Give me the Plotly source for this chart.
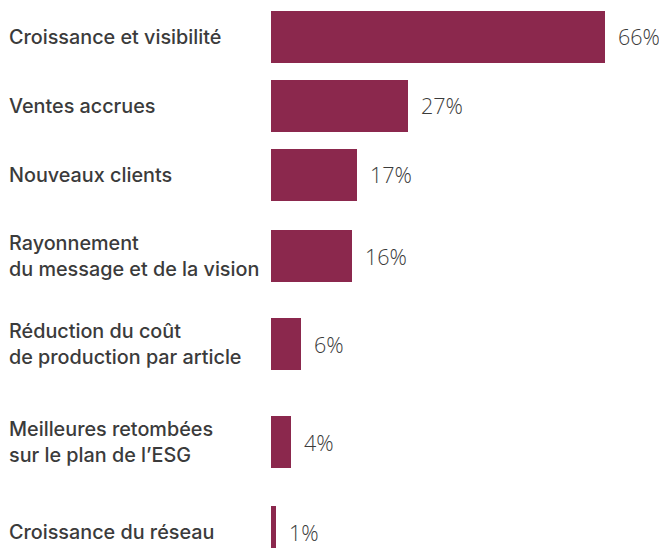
import plotly.graph_objects as go

categories = [
    "Croissance et visibilité",
    "Ventes accrues",
    "Nouveaux clients",
    "Rayonnement<br>du message et de la vision",
    "Réduction du coût<br>de production par article",
    "Meilleures retombées<br>sur le plan de l’ESG",
    "Croissance du réseau",
]
values = [66, 27, 17, 16, 6, 4, 1]
value_labels = ["66%", "27%", "17%", "16%", "6%", "4%", "1%"]

# layout (page body has an 8px margin; figure pixels = page pixels - 8)
OFF = 8
W, H = 667 - OFF, 548 - OFF
row_tops = [t - OFF for t in [11, 80, 149, 230, 318, 416, 506]]
band = 52
bar_left_px = 271 - OFF
px_per_unit = 5.06

BAR = "#8b284d"
TXT = "#3b3b3b"
LABEL_FONT = "Inter"
VALUE_FONT = "Open Sans"

fig = go.Figure()
layout = dict(
    width=W, height=H,
    margin=dict(l=0, r=0, t=0, b=0),
    paper_bgcolor="white", plot_bgcolor="white",
    showlegend=False, bargap=0,
    xaxis=dict(domain=[bar_left_px / W, 1],
               range=[0, (W - bar_left_px) / px_per_unit],
               visible=False, fixedrange=True),
)
annotations = []
for i, (cat, val, lab) in enumerate(zip(categories, values, value_labels)):
    ax = "y" if i == 0 else f"y{i+1}"
    key = "yaxis" if i == 0 else f"yaxis{i+1}"
    top = row_tops[i]
    bottom = min(top + band, H)
    lo = 0.5 - (bottom - top) / band
    layout[key] = dict(domain=[1 - bottom / H, 1 - top / H],
                       range=[lo, 0.5], visible=False, fixedrange=True,
                       anchor="x")
    fig.add_trace(go.Bar(x=[val], y=[0], orientation="h", xaxis="x", yaxis=ax,
                         width=1, marker=dict(color=BAR, line=dict(width=0)),
                         hoverinfo="skip"))
    annotations.append(dict(xref="paper", yref=ax, x=0, y=0,
                            text=cat, showarrow=False, xanchor="left",
                            yanchor="middle", align="left", borderpad=0,
                            font=dict(family=LABEL_FONT, size=19.8, color=TXT, weight=500)))
    annotations.append(dict(xref="x", yref=ax, x=val, y=0, text=lab,
                            showarrow=False, xanchor="left", yanchor="middle",
                            xshift=11,
                            font=dict(family=VALUE_FONT, size=21.5, color=TXT, weight=300)))
layout["annotations"] = annotations
fig.update_layout(**layout)
fig.write_html("out.html", config={"displayModeBar": False})
